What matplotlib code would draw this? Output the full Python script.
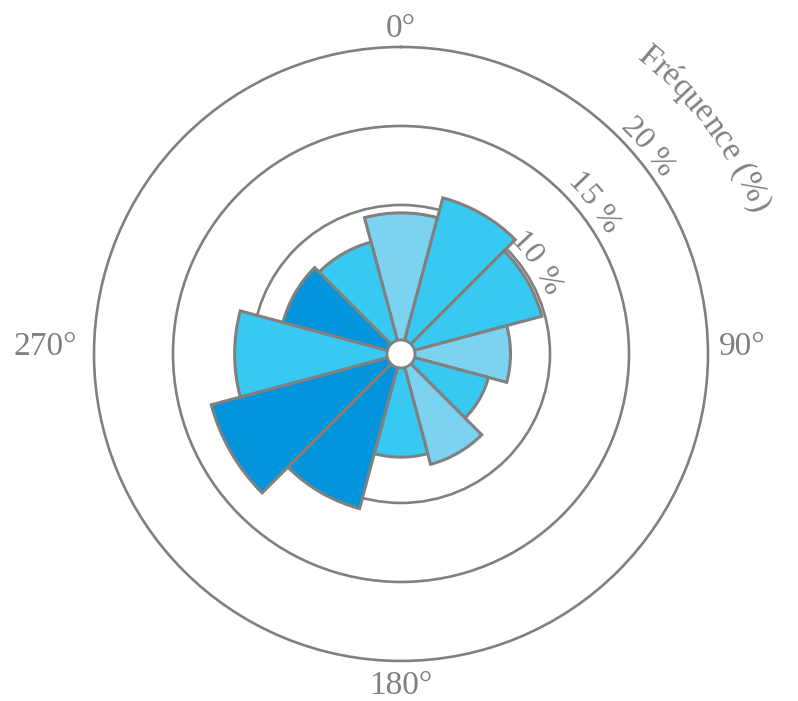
import numpy as np
import matplotlib
matplotlib.use('Agg')
import matplotlib.pyplot as plt
from matplotlib.patches import Circle
from matplotlib.textpath import TextToPath
from matplotlib.font_manager import FontProperties

# wind rose data (direction in degrees, frequency in %)
directions = [0, 30, 60, 90, 120, 150, 180, 210, 240, 270, 300, 330]
frequency = [9.5, 10.8, 9.8, 7.5, 6.3, 7.8, 7.1, 10.7, 13.0, 11.1, 8.3, 7.9]
shades = ['light', 'mid', 'mid', 'light', 'mid', 'light',
          'mid', 'dark', 'dark', 'mid', 'dark', 'mid']
ring_values = [10, 15, 20]
ring_labels = ['10 %', '15 %', '20 %']
angle_labels = ['0°', '90°', '180°', '270°']
axis_title = 'Fréquence (%)'

palette = {'light': '#7bd3f1', 'mid': '#38c9f3', 'dark': '#0394de'}
gray = '#808080'
font = 'Liberation Serif'

rmin, rmax = 0.57, 20
R_PX = 307  # outer ring radius in pixels
dpi = 100

fig = plt.figure(figsize=(7.98, 7.01), dpi=dpi)
ax = fig.add_axes([0.1178, 0.0571, 0.7694, 0.8759], projection='polar')
ax.set_theta_zero_location('N')
ax.set_theta_direction(-1)
ax.set_ylim(rmin, rmax)

theta = np.radians(directions)
width = np.radians(30)
ax.bar(theta, np.array(frequency) - rmin, width=width, bottom=rmin,
       color=[palette[s] for s in shades], edgecolor=gray, linewidth=2.2, zorder=3)

# centre hole
ax.add_patch(Circle((0.5, 0.5), 14 / (2 * R_PX), transform=ax.transAxes,
                    facecolor='white', edgecolor=gray, linewidth=2.0, zorder=5))

# rings as closed circles (avoids seam marks of open gridlines)
ax.set_yticks([])
ax.set_xticks([])
ax.grid(False)
for rv in ring_values[:-1]:
    frac = (rv - rmin) / (rmax - rmin)
    ax.add_patch(Circle((0.5, 0.5), 0.5 * frac, transform=ax.transAxes,
                        fill=False, edgecolor=gray, linewidth=1.9, zorder=1))
ax.spines['polar'].set_color(gray)
ax.spines['polar'].set_linewidth(1.9)

# compass labels
offs = [(0, 10, 'center', 'baseline'), (11, -1, 'left', 'baseline'),
        (0, -33, 'center', 'baseline'), (-17, -1, 'right', 'baseline')]
for lab, ang, (dx, dy, ha, va) in zip(angle_labels, [0, 90, 180, 270], offs):
    ax.annotate(lab, xy=(np.radians(ang), rmax), xytext=(dx * 0.72, dy * 0.72),
                textcoords='offset points', ha=ha, va=va, fontsize=24,
                family=font, color=gray, annotation_clip=False)


def px2r(p):
    return rmin + p * (rmax - rmin) / R_PX


t2p = TextToPath()


def text_w(s, fp):
    if not s:
        return 0.0
    w, h, d = t2p.get_text_width_height_descent(s, fp, ismath=False)
    return w * dpi / 72


def arc_text(s, start_deg, r_px, fs):
    fp = FontProperties(family=font, size=fs)
    for i, ch in enumerate(s):
        mid = (text_w(s[:i], fp) + text_w(s[:i + 1], fp)) / 2
        ang = start_deg + np.degrees(mid / r_px)
        ax.text(np.radians(ang), px2r(r_px), ch, rotation=-ang, rotation_mode='anchor',
                ha='center', va='baseline', fontsize=fs, family=font, color=gray,
                clip_on=False)


ring_px = [149, 230, 307]
for lab, rp in zip(ring_labels, ring_px):
    arc_text(lab, 44.0, rp + 7, 23)
arc_text(axis_title, 38.5, 378, 24)

fig.savefig('out.png', dpi=dpi, facecolor='white')
